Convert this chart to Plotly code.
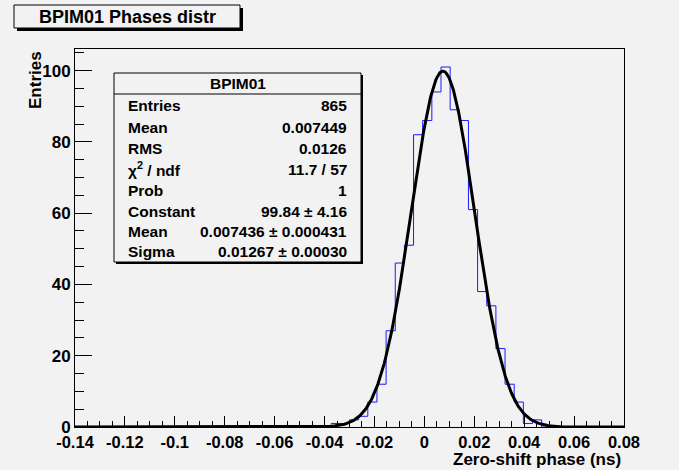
import numpy as np
import plotly.graph_objects as go

# ---------------- data ----------------
x_min, x_max, n_bins = -0.14, 0.08, 60
counts = [0, 0, 0, 0, 0, 0, 0, 0, 0, 0,
          0, 0, 0, 0, 0, 0, 0, 0, 0, 0,
          0, 0, 0, 0, 0, 0, 0, 0, 1, 1,
          2, 3, 7, 12, 27, 46, 51, 82, 86, 94,
          101, 89, 86, 61, 38, 34, 22, 12, 7, 1,
          2, 0, 0, 0, 0, 0, 0, 0, 0, 0]
fit_const, fit_mean, fit_sigma = 99.84, 0.007436, 0.01267

x_tick_vals = [-0.14, -0.12, -0.10, -0.08, -0.06, -0.04, -0.02, 0.0, 0.02, 0.04, 0.06, 0.08]
x_tick_text = ["-0.14", "-0.12", "-0.1", "-0.08", "-0.06", "-0.04", "-0.02", "0", "0.02", "0.04", "0.06", "0.08"]
y_tick_vals = [0, 20, 40, 60, 80, 100]

stats_title = "BPIM01"
stats_labels = ["Entries", "Mean", "RMS", "χ<sup>2</sup> / ndf", "Prob", "Constant", "Mean", "Sigma"]
stats_values = ["865", "0.007449", "0.0126", "11.7 / 57", "1", "99.84 ± 4.16",
                "0.007436 ± 0.000431", "0.01267 ± 0.00030"]
title_text = "BPIM01 Phases distr"
x_title = "Zero-shift phase (ns)"
y_title = "Entries"

# ---------------- geometry (pixels) ----------------
W, H = 679, 470
L, R, T, B = 75, 624, 49, 427
y_max = 106.05

def px(x):
    return (x - L) / (R - L)

def py(y):
    return (B - y) / (B - T)

BG = "#f2f2f2"
FONT = "Liberation Sans, Arial, Helvetica, sans-serif"

edges = np.linspace(x_min, x_max, n_bins + 1)
step_x = [edges[0]] + list(edges) + [edges[-1]]
step_y = [0] + list(counts) + [counts[-1], 0]

xf = np.linspace(x_min, x_max, 800)
yf = fit_const * np.exp(-0.5 * ((xf - fit_mean) / fit_sigma) ** 2)

fig = go.Figure()
fig.add_trace(go.Scatter(x=step_x, y=step_y, mode="lines", line_shape="hv",
                         line=dict(color="#1a1aff", width=1), hoverinfo="skip"))
fig.add_trace(go.Scatter(x=xf, y=yf, mode="lines",
                         line=dict(color="black", width=3), hoverinfo="skip"))

shapes = []
annotations = []

# title box
tb = dict(x0=14, x1=240, y0=5, y1=28)
shapes.append(dict(type="rect", xref="paper", yref="paper",
                   x0=px(tb["x0"] + 3), x1=px(tb["x1"] + 3), y0=py(tb["y0"] + 3), y1=py(tb["y1"] + 3),
                   fillcolor="black", line=dict(width=0), layer="above"))
shapes.append(dict(type="rect", xref="paper", yref="paper",
                   x0=px(tb["x0"]), x1=px(tb["x1"]), y0=py(tb["y0"]), y1=py(tb["y1"]),
                   fillcolor=BG, line=dict(color="black", width=1), layer="above"))
annotations.append(dict(text=title_text, xref="paper", yref="paper",
                        x=px((tb["x0"] + tb["x1"]) / 2), y=py(17), xanchor="center", yanchor="middle",
                        showarrow=False, font=dict(family=FONT, size=18, color="black", weight="bold")))

# stats box
sb = dict(x0=114, x1=361, y0=73, y1=262)
shapes.append(dict(type="rect", xref="paper", yref="paper",
                   x0=px(sb["x0"] + 2), x1=px(sb["x1"] + 2), y0=py(sb["y0"] + 2), y1=py(sb["y1"] + 2),
                   fillcolor="black", line=dict(width=0), layer="above"))
shapes.append(dict(type="rect", xref="paper", yref="paper",
                   x0=px(sb["x0"]), x1=px(sb["x1"]), y0=py(sb["y0"]), y1=py(sb["y1"]),
                   fillcolor=BG, line=dict(color="black", width=1), layer="above"))
shapes.append(dict(type="line", xref="paper", yref="paper",
                   x0=px(sb["x0"]), x1=px(sb["x1"]), y0=py(94), y1=py(94),
                   line=dict(color="black", width=1), layer="above"))
annotations.append(dict(text=stats_title, xref="paper", yref="paper",
                        x=px((sb["x0"] + sb["x1"]) / 2), y=py(84), xanchor="center", yanchor="middle",
                        showarrow=False, font=dict(family=FONT, size=15.5, color="black", weight="bold")))
row_y = [105, 127, 148, 169, 190, 211, 232, 252]
for lab, val, ry in zip(stats_labels, stats_values, row_y):
    annotations.append(dict(text=lab, xref="paper", yref="paper", x=px(126), y=py(ry),
                            xanchor="left", yanchor="middle", showarrow=False,
                            font=dict(family=FONT, size=15.5, color="black", weight="bold")))
    annotations.append(dict(text=val, xref="paper", yref="paper", x=px(349), y=py(ry),
                            xanchor="right", yanchor="middle", showarrow=False,
                            font=dict(family=FONT, size=15.5, color="black", weight="bold")))

# axis titles
annotations.append(dict(text=y_title, xref="paper", yref="paper", x=px(35), y=py(49),
                        xanchor="center", yanchor="top", textangle=-90, showarrow=False,
                        font=dict(family=FONT, size=17, color="black", weight="bold")))
annotations.append(dict(text=x_title, xref="paper", yref="paper", x=px(623), y=py(459),
                        xanchor="right", yanchor="middle", showarrow=False,
                        font=dict(family=FONT, size=17, color="black", weight="bold")))

xtickfont = dict(family=FONT, size=16.5, color="black", weight="bold")
ytickfont = dict(family=FONT, size=17, color="black", weight="bold")
fig.update_layout(
    width=W, height=H,
    margin=dict(l=L, r=W - R, t=T, b=H - B, pad=0),
    paper_bgcolor=BG, plot_bgcolor=BG,
    showlegend=False,
    shapes=shapes, annotations=annotations,
    xaxis=dict(range=[x_min, x_max], tickvals=x_tick_vals, ticktext=x_tick_text,
               ticks="inside", ticklen=11, tickwidth=1, tickcolor="black",
               minor=dict(dtick=0.005, tick0=0, ticks="inside", ticklen=6, tickcolor="black", showgrid=False),
               showline=True, linecolor="black", linewidth=1, mirror=True,
               showgrid=False, zeroline=False, tickfont=xtickfont),
    yaxis=dict(range=[0, y_max], tickvals=y_tick_vals,
               ticks="inside", ticklen=17, tickwidth=1, tickcolor="black",
               minor=dict(dtick=5, tick0=0, ticks="inside", ticklen=9, tickcolor="black", showgrid=False),
               showline=True, linecolor="black", linewidth=1, mirror=True,
               showgrid=False, zeroline=False, tickfont=ytickfont),
)

fig.write_html("out.html")
